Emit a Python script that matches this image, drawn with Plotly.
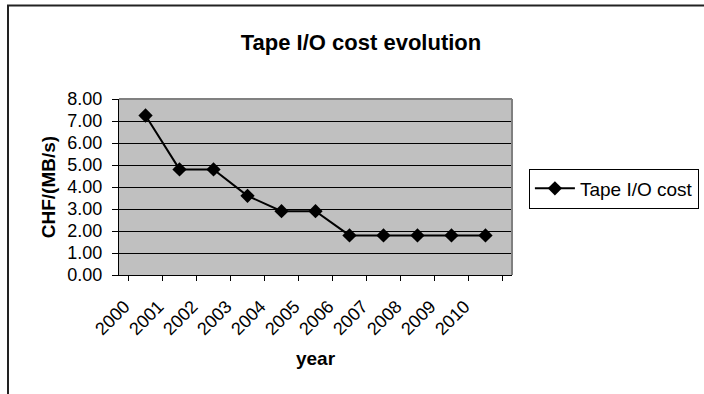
import plotly.graph_objects as go

# Tape I/O cost per year, in CHF per MB/s
years = ["2000", "2001", "2002", "2003", "2004", "2005",
         "2006", "2007", "2008", "2009", "2010"]
cost = [7.25, 4.80, 4.80, 3.60, 2.90, 2.90, 1.80, 1.80, 1.80, 1.80, 1.80]
y_ticks = [0, 1, 2, 3, 4, 5, 6, 7, 8]

FONT = "Liberation Sans, Arial, sans-serif"

fig = go.Figure()
fig.add_trace(go.Scatter(
    x=years, y=cost, name="Tape I/O cost", mode="lines+markers",
    line=dict(color="black", width=2),
    marker=dict(symbol="diamond", size=11, color="black"),
))

fig.update_layout(
    width=704, height=394,
    margin=dict(l=119, r=192, t=99, b=119, autoexpand=False),
    paper_bgcolor="white",
    plot_bgcolor="#C0C0C0",
    font=dict(family=FONT, size=18, color="black"),
    title=dict(text="<b>Tape I/O cost evolution</b>", font=dict(size=22),
               x=361 / 704, xref="container", xanchor="center",
               y=1 - 42 / 394, yref="container", yanchor="middle"),
    showlegend=True,
    legend=dict(x=1.043, xanchor="left", y=0.605, yanchor="top",
                bordercolor="black", borderwidth=1, bgcolor="white",
                itemwidth=40, font=dict(size=19)),
    xaxis=dict(
        type="category", tickangle=-45, tickson="boundaries",
        ticks="outside", ticklen=5, tickcolor="black",
        ticklabelstandoff=13, ticklabelshift=-21,
        showline=True, linecolor="black", linewidth=1,
        showgrid=False, zeroline=False,
        title=dict(text="<b>year</b>", font=dict(size=19), standoff=13),
    ),
    yaxis=dict(
        range=[0, 8], tickvals=y_ticks, tickformat=".2f",
        ticks="outside", ticklen=6, tickcolor="black",
        ticklabelstandoff=6,
        showline=True, linecolor="black", linewidth=1,
        showgrid=True, gridcolor="black", gridwidth=1, zeroline=False,
        title=dict(text="<b>CHF/(MB/s)</b>", font=dict(size=19), standoff=6),
    ),
    shapes=[
        # gray plot-area border on top and right
        dict(type="line", xref="paper", yref="paper", x0=0, x1=1, y0=1, y1=1,
             line=dict(color="#808080", width=2), layer="above"),
        dict(type="line", xref="paper", yref="paper", x0=1, x1=1, y0=0, y1=1,
             line=dict(color="#808080", width=2), layer="above"),
        # outer chart frame
        dict(type="rect", xref="paper", yref="paper",
             x0=(8 - 119) / 393, x1=(740 - 119) / 393,
             y0=(275 - 440) / 176, y1=(275 - 5.5) / 176,
             line=dict(color="#222222", width=2), layer="above"),
    ],
)

fig.write_html("out.html")
